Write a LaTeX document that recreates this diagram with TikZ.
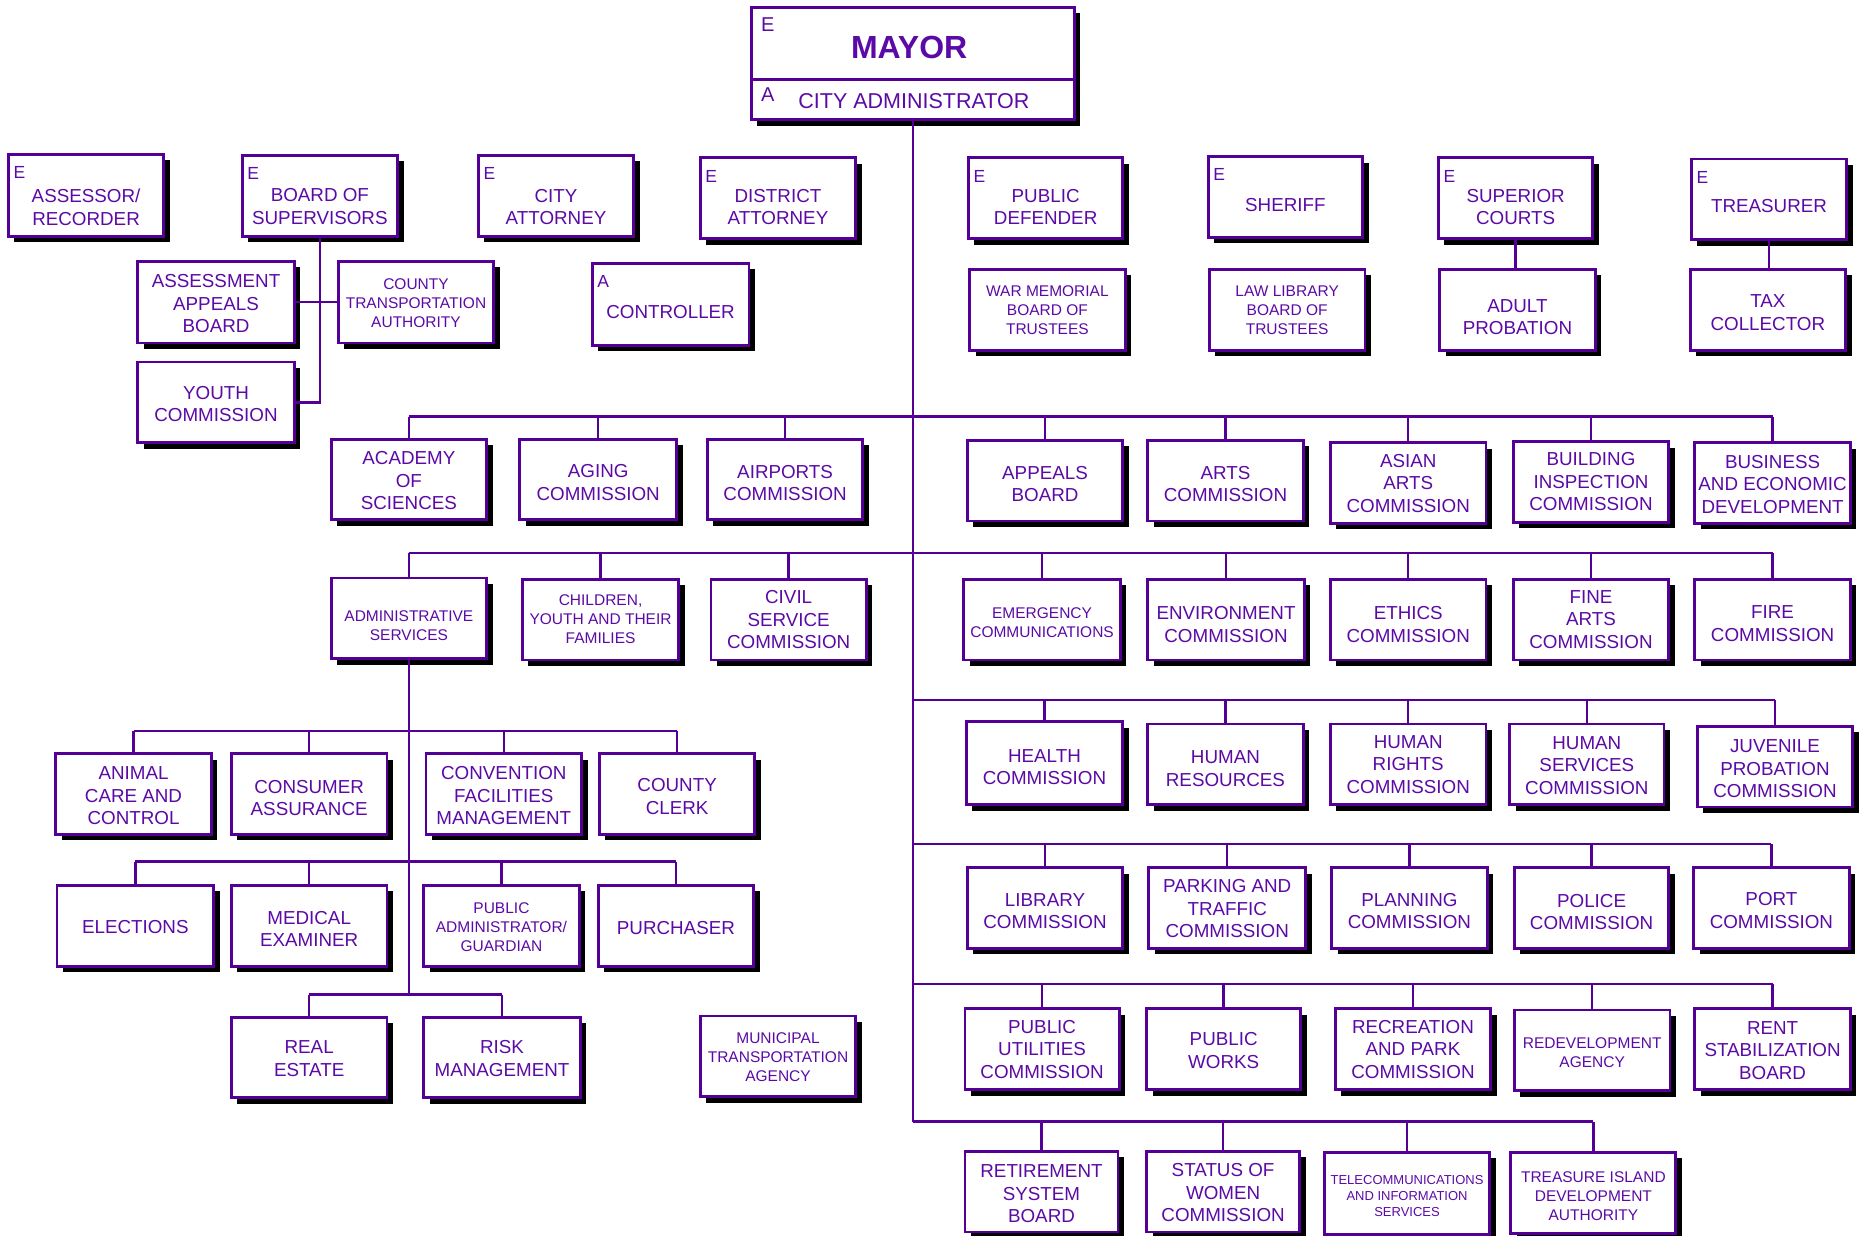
\documentclass[tikz,border=0pt]{standalone}
\usepackage{fontspec}
\setmainfont{Liberation Sans}
\usetikzlibrary{fit,shadows,calc}
\definecolor{purp}{RGB}{84,0,150}
\definecolor{purptxt}{RGB}{92,10,165}
\tikzset{
  obox/.style={draw=purp, line width=2.8pt, fill=white, inner sep=0pt,
    drop shadow={shadow xshift=6pt, shadow yshift=-6pt, fill=black, opacity=1}},
  txtn/.style={text=purptxt, align=center, inner sep=0pt, font=\fontsize{18.8}{22.5}\selectfont},
  txts/.style={text=purptxt, align=center, inner sep=0pt, font=\fontsize{15.5}{19}\selectfont},
  txtt/.style={text=purptxt, align=center, inner sep=0pt, font=\fontsize{13}{16}\selectfont},
  elab/.style={text=purptxt, inner sep=0pt, font=\fontsize{17.5}{20}\selectfont},
  conn/.style={draw=purp, line width=2.4pt},
}
% name, x1, y1, x2, y2, text style, dy, text
\newcommand\ob[8]{%
  \node[obox, fit={(#2,#3) (#4,#5)}] (#1) {};
  \node[#6] (#1-t) at ($(#1.center)+(0,#7)$) {#8};
}
\newcommand\elabel[2]{\node[elab] (#1-e) at ($(#1.north west)+(10.5,16.5)$) {#2};}
\begin{document}
\begin{tikzpicture}[x=1.1869pt, y=-1.1869pt]
\useasboundingbox (0,0) rectangle (1568,1041);

% Mayor
\node[obox, fit={(633,6) (905,101)}] (mayor) {};
\coordinate (mdiv) at (0,67);
\draw[draw=purp, line width=2.8pt] (mayor.west |- mdiv) -- (mayor.east |- mdiv);
\node[text=purptxt, inner sep=0pt, font=\bfseries\fontsize{32}{36}\selectfont] (mayor-t) at (766,40) {MAYOR};
\node[text=purptxt, inner sep=0pt, font=\fontsize{21.5}{25}\selectfont] (cadm-t) at (770,85) {CITY ADMINISTRATOR};
\node[text=purptxt, inner sep=0pt, font=\fontsize{20}{24}\selectfont] (mayor-e) at (647,21) {E};
\node[text=purptxt, inner sep=0pt, font=\fontsize{20}{24}\selectfont] (cadm-a) at (647,80) {A};

% Elected row
\ob{assessor}{7}{130}{138}{199}{txtn}{10}{ASSESSOR/\\RECORDER}\elabel{assessor}{E}
\ob{bos}{204}{131}{335}{199}{txtn}{9}{BOARD OF\\SUPERVISORS}\elabel{bos}{E}
\ob{cityatty}{403}{131}{534}{199}{txtn}{9.5}{CITY\\ATTORNEY}\elabel{cityatty}{E}
\ob{da}{590}{133}{721}{201}{txtn}{7.5}{DISTRICT\\ATTORNEY}\elabel{da}{E}
\ob{pd}{816}{133}{946}{201}{txtn}{7.5}{PUBLIC\\DEFENDER}\elabel{pd}{E}
\ob{sheriff}{1018}{132}{1148}{200}{txtn}{7}{SHERIFF}\elabel{sheriff}{E}
\ob{supct}{1212}{133}{1342}{201}{txtn}{7.5}{SUPERIOR\\COURTS}\elabel{supct}{E}
\ob{treas}{1425}{134}{1556}{202}{txtn}{6}{TREASURER}\elabel{treas}{E}

% Second row
\ob{aab}{116}{220}{248}{289}{txtn}{1.5}{ASSESSMENT\\APPEALS\\BOARD}
\ob{cta}{285}{220}{416}{289}{txts}{1}{COUNTY\\TRANSPORTATION\\AUTHORITY}
\ob{ctrl}{499}{222}{631}{291}{txtn}{6.5}{CONTROLLER}\elabel{ctrl}{A}
\ob{warmem}{817}{227}{948}{295}{txts}{0}{WAR MEMORIAL\\BOARD OF\\TRUSTEES}
\ob{lawlib}{1019}{227}{1150}{295}{txts}{0}{LAW LIBRARY\\BOARD OF\\TRUSTEES}
\ob{adultprob}{1213}{227}{1344}{295}{txtn}{6}{ADULT\\PROBATION}
\ob{taxcol}{1424}{227}{1555}{295}{txtn}{2.5}{TAX\\COLLECTOR}
\ob{youth}{116}{305}{248}{373}{txtn}{1.5}{YOUTH\\COMMISSION}

% Row 3
\ob{acad}{279}{370}{410}{438}{txtn}{1}{ACADEMY\\OF\\SCIENCES}
\ob{aging}{438}{370}{570}{438}{txtn}{2.5}{AGING\\COMMISSION}
\ob{airports}{596}{370}{727}{438}{txtn}{3}{AIRPORTS\\COMMISSION}
\ob{appeals}{815}{371}{946}{439}{txtn}{3}{APPEALS\\BOARD}
\ob{arts}{967}{371}{1098}{439}{txtn}{3}{ARTS\\COMMISSION}
\ob{asian}{1121}{373}{1252}{441}{txtn}{0}{ASIAN\\ARTS\\COMMISSION}
\ob{bldg}{1275}{372}{1406}{440}{txtn}{0}{BUILDING\\INSPECTION\\COMMISSION}
\ob{business}{1428}{373}{1559}{441}{txtn}{1}{BUSINESS\\AND ECONOMIC\\DEVELOPMENT}

% Row 4
\ob{admin}{279}{487}{410}{555}{txts}{6}{ADMINISTRATIVE\\SERVICES}
\ob{children}{440}{488}{572}{556}{txts}{0}{CHILDREN,\\YOUTH AND THEIR\\FAMILIES}
\ob{civil}{599}{488}{730}{556}{txtn}{0}{CIVIL\\SERVICE\\COMMISSION}
\ob{emerg}{812}{488}{944}{556}{txts}{3}{EMERGENCY\\COMMUNICATIONS}
\ob{env}{967}{488}{1099}{556}{txtn}{4}{ENVIRONMENT\\COMMISSION}
\ob{ethics}{1121}{488}{1252}{556}{txtn}{4}{ETHICS\\COMMISSION}
\ob{finearts}{1275}{488}{1406}{556}{txtn}{0}{FINE\\ARTS\\COMMISSION}
\ob{fire}{1428}{488}{1559}{556}{txtn}{3.5}{FIRE\\COMMISSION}

% Row 5
\ob{health}{814}{608}{946}{678}{txtn}{3.5}{HEALTH\\COMMISSION}
\ob{hr}{967}{610}{1098}{678}{txtn}{3.5}{HUMAN\\RESOURCES}
\ob{hrights}{1121}{610}{1252}{678}{txtn}{0}{HUMAN\\RIGHTS\\COMMISSION}
\ob{hserv}{1272}{610}{1402}{678}{txtn}{1}{HUMAN\\SERVICES\\COMMISSION}
\ob{juv}{1430}{612}{1561}{680}{txtn}{2}{JUVENILE\\PROBATION\\COMMISSION}

% Row 6
\ob{library}{815}{731}{946}{799}{txtn}{2.5}{LIBRARY\\COMMISSION}
\ob{parking}{968}{731}{1100}{799}{txtn}{0.5}{PARKING AND\\TRAFFIC\\COMMISSION}
\ob{planning}{1122}{731}{1253}{799}{txtn}{2.5}{PLANNING\\COMMISSION}
\ob{police}{1276}{731}{1406}{799}{txtn}{3.5}{POLICE\\COMMISSION}
\ob{port}{1427}{731}{1558}{799}{txtn}{2}{PORT\\COMMISSION}

% Row 7
\ob{pubutil}{813}{850}{943}{918}{txtn}{0}{PUBLIC\\UTILITIES\\COMMISSION}
\ob{pubworks}{966}{850}{1096}{918}{txtn}{1}{PUBLIC\\WORKS}
\ob{rec}{1125}{850}{1256}{918}{txtn}{0}{RECREATION\\AND PARK\\COMMISSION}
\ob{redev}{1276}{851}{1407}{919}{txts}{1.5}{REDEVELOPMENT\\AGENCY}
\ob{rent}{1428}{850}{1559}{918}{txtn}{1}{RENT\\STABILIZATION\\BOARD}

% Row 8
\ob{retire}{813}{970}{942}{1038}{txtn}{2}{RETIREMENT\\SYSTEM\\BOARD}
\ob{statusw}{966}{970}{1095}{1038}{txtn}{1}{STATUS OF\\WOMEN\\COMMISSION}
\ob{telecom}{1116}{971}{1255}{1040}{txtt}{2}{TELECOMMUNICATIONS\\AND INFORMATION\\SERVICES}
\ob{treasisl}{1273}{971}{1412}{1039}{txts}{3}{TREASURE ISLAND\\DEVELOPMENT\\AUTHORITY}

% Administrative services subtree
\ob{animal}{47}{635}{178}{703}{txtn}{1.5}{ANIMAL\\CARE AND\\CONTROL}
\ob{consumer}{195}{635}{326}{703}{txtn}{3.5}{CONSUMER\\ASSURANCE}
\ob{convention}{359}{635}{490}{703}{txtn}{1.5}{CONVENTION\\FACILITIES\\MANAGEMENT}
\ob{clerk}{505}{635}{636}{703}{txtn}{2}{COUNTY\\CLERK}
\ob{elections}{48}{746}{180}{814}{txtn}{1}{ELECTIONS}
\ob{medical}{195}{746}{326}{814}{txtn}{2.5}{MEDICAL\\EXAMINER}
\ob{pubadmin}{357}{746}{488}{814}{txts}{1.5}{PUBLIC\\ADMINISTRATOR/\\GUARDIAN}
\ob{purchaser}{504}{746}{635}{814}{txtn}{2}{PURCHASER}
\ob{realestate}{195}{857}{326}{925}{txtn}{1}{REAL\\ESTATE}
\ob{risk}{357}{857}{489}{925}{txtn}{1}{RISK\\MANAGEMENT}
\ob{muni}{590}{856}{721}{924}{txts}{1}{MUNICIPAL\\TRANSPORTATION\\AGENCY}

% Connectors
\coordinate (b1) at (768,351);
\coordinate (b2) at (768,466);
\coordinate (b3) at (768,590);
\coordinate (b4) at (768,711);
\coordinate (b5) at (768,829);
\coordinate (b6) at (768,945);
\coordinate (a1) at (344,616);
\coordinate (a2) at (344,726);
\coordinate (a3) at (344,838);

\draw[conn] (mayor.south) -- (mayor.south |- b6);

\draw[conn] (acad.north |- b1) -- (business.north |- b1);
\foreach \n in {acad,aging,airports,appeals,arts,asian,bldg,business}
  \draw[conn] (\n.north) -- (\n.north |- b1);

\draw[conn] (admin.north |- b2) -- (fire.north |- b2);
\foreach \n in {admin,children,civil,emerg,env,ethics,finearts,fire}
  \draw[conn] (\n.north) -- (\n.north |- b2);

\draw[conn] (mayor.south |- b3) -- (juv.north |- b3);
\foreach \n in {health,hr,hrights,hserv,juv}
  \draw[conn] (\n.north) -- (\n.north |- b3);

\draw[conn] (mayor.south |- b4) -- (port.north |- b4);
\foreach \n in {library,parking,planning,police,port}
  \draw[conn] (\n.north) -- (\n.north |- b4);

\draw[conn] (mayor.south |- b5) -- (rent.north |- b5);
\foreach \n in {pubutil,pubworks,rec,redev,rent}
  \draw[conn] (\n.north) -- (\n.north |- b5);

\draw[conn] (mayor.south |- b6) -- (treasisl.north |- b6);
\foreach \n in {retire,statusw,telecom,treasisl}
  \draw[conn] (\n.north) -- (\n.north |- b6);

\draw[conn] (admin.south) -- (admin.south |- a3);
\draw[conn] (animal.north |- a1) -- (clerk.north |- a1);
\foreach \n in {animal,consumer,convention,clerk}
  \draw[conn] (\n.north) -- (\n.north |- a1);
\draw[conn] (elections.north |- a2) -- (purchaser.north |- a2);
\foreach \n in {elections,medical,pubadmin,purchaser}
  \draw[conn] (\n.north) -- (\n.north |- a2);
\draw[conn] (realestate.north |- a3) -- (risk.north |- a3);
\foreach \n in {realestate,risk}
  \draw[conn] (\n.north) -- (\n.north |- a3);

\draw[conn] (bos.south) |- (youth.east);
\draw[conn] (aab.east) -- (cta.west);
\draw[conn] (supct.south) -- (supct.south |- adultprob.north);
\draw[conn] (treas.south) -- (treas.south |- taxcol.north);
\end{tikzpicture}
\end{document}
